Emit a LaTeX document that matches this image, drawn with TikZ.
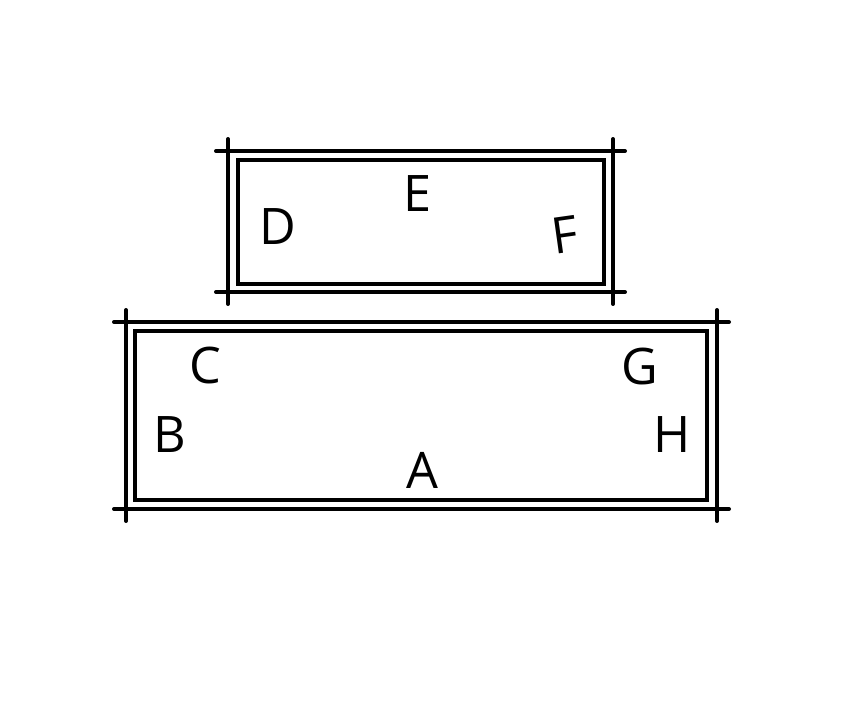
\documentclass[tikz,border=0pt]{standalone}
\usepackage{fontspec}
\setsansfont{Open Sans}
\usetikzlibrary{calc}
\tikzset{
  wall/.style={black, line width=3.4pt, line cap=round},
  letter/.style={font=\sffamily\fontsize{43}{43}\selectfont, inner sep=0pt, anchor=center}
}

\begin{document}
\begin{tikzpicture}[x=0.03cm, y=-0.03cm]
    \useasboundingbox (0,0) rectangle (843,700);
    %Values
    \def\ext{12};

    \def\uxl{228};
    \def\uxr{613};
    \def\uyt{151};
    \def\uyb{292};

    \def\lxl{126};
    \def\lxr{717};
    \def\lyt{322};
    \def\lyb{509};

    % upper box, outer lines
    \draw[wall] (\uxl-\ext,\uyt) -- (\uxr+\ext,\uyt);
    \draw[wall] (\uxl-\ext,\uyb) -- (\uxr+\ext,\uyb);
    \draw[wall] (\uxl,\uyt-\ext) -- (\uxl,\uyb+\ext);
    \draw[wall] (\uxr,\uyt-\ext) -- (\uxr,\uyb+\ext);
    \draw[wall] (\uxl+10,\uyt+9) rectangle (\uxr-9,\uyb-8);

    % lower box, outer lines
    \draw[wall] (\lxl-\ext,\lyt) -- (\lxr+\ext,\lyt);
    \draw[wall] (\lxl-\ext,\lyb) -- (\lxr+\ext,\lyb);
    \draw[wall] (\lxl,\lyt-\ext) -- (\lxl,\lyb+\ext);
    \draw[wall] (\lxr,\lyt-\ext) -- (\lxr,\lyb+\ext);
    \draw[wall] (\lxl+9,\lyt+9) rectangle (\lxr-10,\lyb-9);

    % Letters
    \node[letter] (d) at (278,227) {D};
    \node[letter] (e) at (418,194) {E};
    \node[letter, rotate=8] (f) at (565,235) {F};
    \node[letter] (c) at (205,366) {C};
    \node[letter] (b) at (170,435) {B};
    \node[letter] (g) at (640,367) {G};
    \node[letter] (h) at (672,435) {H};
    \node[letter] (a) at (422,470) {A};
\end{tikzpicture}
\end{document}
